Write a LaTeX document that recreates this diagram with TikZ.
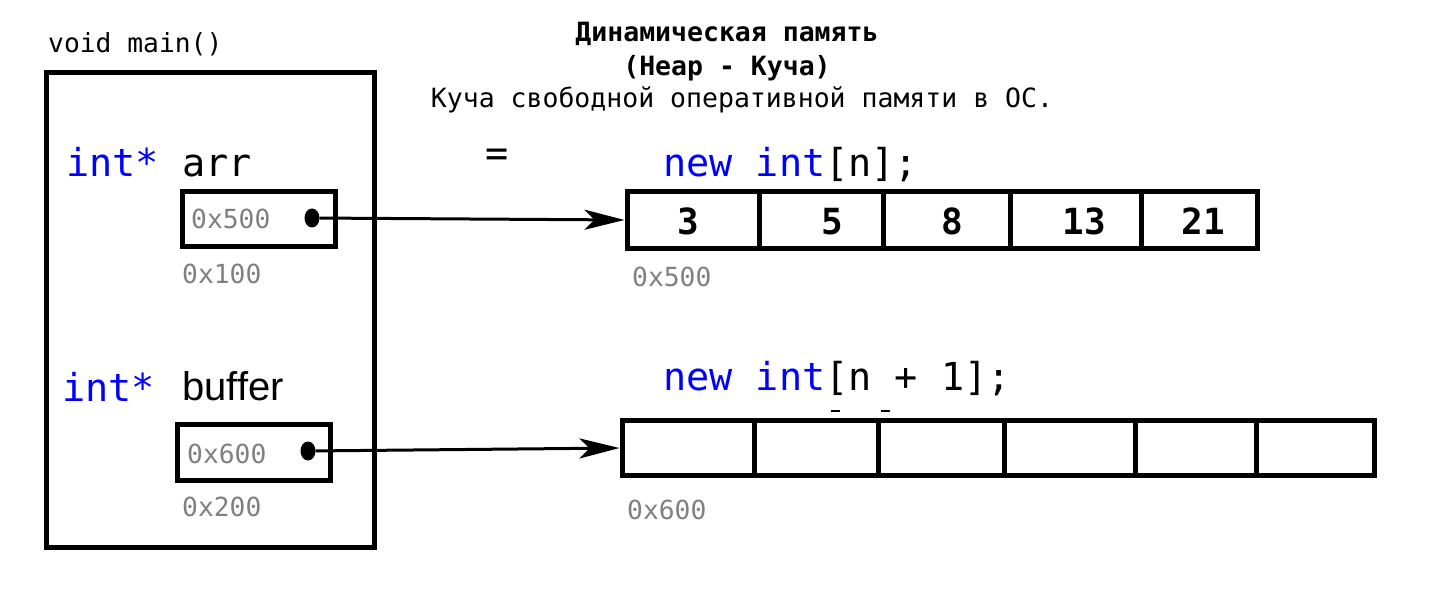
\documentclass[tikz,border=0pt]{standalone}
\usepackage{fontspec}
\usetikzlibrary{arrows.meta,shapes.geometric}
\setmonofont{DejaVu Sans Mono}
\newfontfamily\bufferfont{Liberation Sans}
\definecolor{kw}{RGB}{0,0,255}
\definecolor{addr}{RGB}{128,128,128}
\begin{document}
\begin{tikzpicture}[x=1pt,y=-1pt,
 frame/.style={draw, line width=5pt, inner sep=0, outer sep=0, anchor=north west},
 code/.style={font=\ttfamily\fontsize{38.5}{40}\selectfont, inner sep=0, anchor=base west},
 small/.style={font=\ttfamily\fontsize{26.3}{28}\selectfont, inner sep=0, anchor=base west},
 addrtxt/.style={small, text=addr},
 head/.style={font=\ttfamily\fontsize{26.5}{28}\selectfont, inner sep=0, anchor=base},
 cell/.style={draw, line width=5pt, inner sep=0, outer sep=0, anchor=west},
 val/.style={font=\ttfamily\bfseries\fontsize{36}{38}\selectfont, inner sep=0, anchor=base},
 dot/.style={ellipse, fill, minimum width=15pt, minimum height=19pt, inner sep=0},
 link/.style={line width=3pt, shorten >=3pt, -{Stealth[length=40pt,width=20pt,inset=10pt]}}
]
\useasboundingbox (0,0) rectangle (1432,596);

% titles
\node[head] (t1) at (727,42) {\bfseries Динамическая память};
\node[head] (t2) at (727,76) {\bfseries (Heap - Куча)};
\node[head] (t3) at (742,108) {Куча свободной оперативной памяти в ОС.};

% main frame
\node[small] (vm) at (48,53) {void main()};
\node[frame, minimum width=328pt, minimum height=475pt] (main) at (46.5,72.5) {};

% arr
\node[code] (arrlbl) at (66,177) {\textcolor{kw}{int*} arr};
\node[frame, minimum width=153pt, minimum height=55pt] (p1) at (182.5,191.5) {};
\node[addrtxt] (p1v) at (191,229) {0x500};
\node[dot] (d1) at (312,218) {};
\node[addrtxt] (p1a) at (182,283) {0x100};

% buffer
\node[code] (buflbl) at (62,401) {\textcolor{kw}{int*}};
\node[inner sep=0, anchor=base west, font=\bufferfont\fontsize{40}{42}\selectfont] (bufname) at (182,400) {buffer};
\node[frame, minimum width=153pt, minimum height=56pt] (p2) at (177.5,424.5) {};
\node[addrtxt] (p2v) at (187,463) {0x600};
\node[dot] (d2) at (308,451) {};
\node[addrtxt] (p2a) at (182,516) {0x200};

% equals
\node[code, anchor=center] (eq) at (497,158) {=};

% array 1
\node[code] (new1) at (663,177) {\textcolor{kw}{new int}[n];};
\node[cell, minimum width=132pt, minimum height=57pt] (a1) at (627.5,220) {};
\node[cell, minimum width=124pt, minimum height=57pt] (a2) at (a1.east) {};
\node[cell, minimum width=127pt, minimum height=57pt] (a3) at (a2.east) {};
\node[cell, minimum width=131pt, minimum height=57pt] (a4) at (a3.east) {};
\node[cell, minimum width=116pt, minimum height=57pt] (a5) at (a4.east) {};
\node[val] (v1) at (688,235) {3};
\node[val] (v2) at (832,235) {5};
\node[val] (v3) at (952,235) {8};
\node[val] (v4) at (1084,235) {13};
\node[val] (v5) at (1203,235) {21};
\node[addrtxt] (a1adr) at (632,286) {0x500};

% array 2
\node[code] (new2) at (663,390) {\textcolor{kw}{new int}[n + 1];};
\draw[line width=2pt] (831,411) -- (840,411);
\draw[line width=2pt] (881,411) -- (890,411);
\node[cell, minimum width=132pt, minimum height=55pt] (b1) at (622.5,448) {};
\node[cell, minimum width=124pt, minimum height=55pt] (b2) at (b1.east) {};
\node[cell, minimum width=126pt, minimum height=55pt] (b3) at (b2.east) {};
\node[cell, minimum width=131pt, minimum height=55pt] (b4) at (b3.east) {};
\node[cell, minimum width=121pt, minimum height=55pt] (b5) at (b4.east) {};
\node[cell, minimum width=118pt, minimum height=55pt] (b6) at (b5.east) {};
\node[addrtxt] (b1adr) at (627,519) {0x600};

% pointers
\draw[link] (d1) -- (a1.west);
\draw[link] (d2) -- (b1.west);
\end{tikzpicture}
\end{document}
